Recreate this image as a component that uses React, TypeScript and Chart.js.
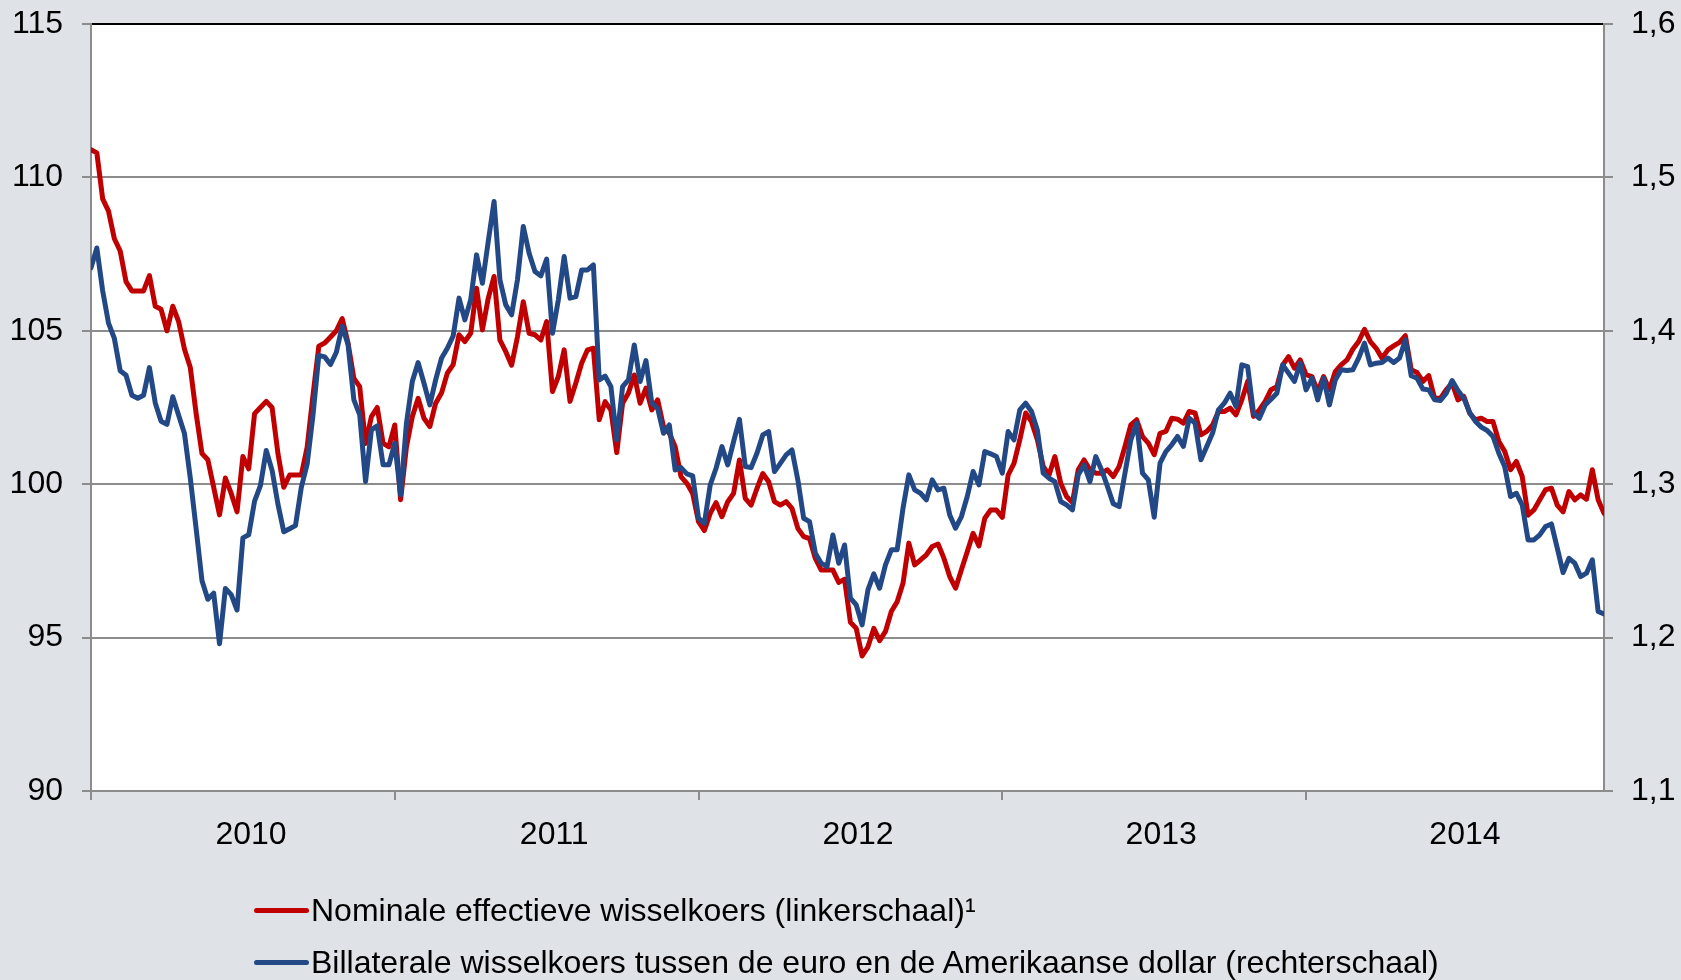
import React, { useEffect, useRef } from 'react';
import { Chart, registerables } from 'chart.js';

Chart.register(...registerables);

// ---- data (weekly observations, Jan 2010 – Dec 2014) ----
const yearLabels = ['2010', '2011', '2012', '2013', '2014'];
const yearStartWeeks = [0, 52, 104, 156, 208];
const yearLabelWeeks = [27.4, 79.3, 131.3, 183.2, 235.2];
const leftTicks = [90, 95, 100, 105, 110, 115];
const rightTicks = [1.1, 1.2, 1.3, 1.4, 1.5, 1.6];

const seriesNames = [
  'Nominale effectieve wisselkoers (linkerschaal)\u00B9',
  'Billaterale wisselkoers tussen de euro en de Amerikaanse dollar (rechterschaal)',
];

const nominalEffective = [
  110.9, 110.8, 109.3, 108.9, 108.0, 107.6, 106.6, 106.3, 106.3, 106.3,
  106.8, 105.8, 105.7, 105.0, 105.8, 105.3, 104.4, 103.8, 102.3, 101.0,
  100.8, 99.9, 99.0, 100.2, 99.7, 99.1, 100.9, 100.5, 102.3, 102.5,
  102.7, 102.5, 101.0, 99.9, 100.3, 100.3, 100.3, 101.2, 102.9, 104.5,
  104.6, 104.8, 105.0, 105.4, 104.6,
  103.45, 103.18, 101.33, 102.2, 102.5, 101.33, 101.22, 101.93, 99.49, 101.22,
  102.2, 102.8, 102.15, 101.88, 102.64, 102.97, 103.62, 103.9, 104.87, 104.65,
  104.92, 106.39, 105.03, 106.06, 106.77, 104.7, 104.32, 103.88, 104.8, 105.95,
  104.92, 104.87, 104.7, 105.3, 103.02, 103.51, 104.38, 102.7, 103.3, 103.95,
  104.38, 104.43, 102.1,
  102.69, 102.42, 101.03, 102.64, 102.97, 103.56, 102.64, 103.13, 102.42, 102.75,
  101.88, 101.66, 101.22, 100.25, 100.03, 99.7, 98.78, 98.49, 99.05, 99.4,
  98.94, 99.43, 99.7, 100.79, 99.54, 99.32, 99.86, 100.35, 100.08, 99.43,
  99.32, 99.43, 99.21, 98.56, 98.29, 98.23, 97.58,
  97.2, 97.2, 97.2, 96.8, 96.9, 95.5, 95.3, 94.4, 94.7, 95.3,
  94.9, 95.2, 95.85, 96.17, 96.77, 98.08, 97.37, 97.53, 97.7, 97.97,
  98.05, 97.59, 96.99, 96.61, 97.21, 97.8, 98.4, 97.99, 98.89, 99.16,
  99.16, 98.92, 100.3, 100.68, 101.45, 102.32, 102.04, 101.45, 100.58, 100.3,
  100.9, 100.03, 99.6, 99.4, 100.47, 100.79, 100.47, 100.36, 100.36,
  100.47, 100.25, 100.58, 101.23, 101.93, 102.1, 101.55, 101.34, 100.96, 101.66,
  101.72, 102.15, 102.12, 101.99, 102.37, 102.32, 101.61, 101.72, 101.93, 102.37,
  102.37, 102.48, 102.26, 102.75, 103.35, 102.21, 102.42, 102.7, 103.08, 103.18,
  103.89, 104.16, 103.78, 104.05, 103.57, 103.51, 103.02, 103.51, 103.08, 103.67,
  103.89,
  104.05, 104.4, 104.65, 105.05, 104.65, 104.43, 104.11, 104.38, 104.51, 104.62,
  104.84, 103.73, 103.64, 103.35, 103.54, 102.8, 102.8, 103.08, 103.29, 102.75,
  102.86, 102.32, 102.1, 102.15, 102.04, 102.04, 101.39, 101.07, 100.47, 100.74,
  100.25, 98.99, 99.16, 99.49, 99.82, 99.87, 99.32, 99.1, 99.76, 99.49,
  99.65, 99.51, 100.47, 99.49, 99.05,
];

const eurUsd = [
  1.441, 1.454, 1.426, 1.405, 1.395, 1.374, 1.371, 1.358, 1.356, 1.358,
  1.376, 1.353, 1.341, 1.339, 1.357, 1.345, 1.333, 1.304, 1.271, 1.237,
  1.225, 1.229, 1.196, 1.232, 1.228, 1.218, 1.265, 1.267, 1.289, 1.299,
  1.322, 1.309, 1.287, 1.269, 1.271, 1.273, 1.298, 1.313, 1.345, 1.384,
  1.383, 1.378, 1.386, 1.403, 1.391,
  1.355, 1.3452, 1.3017, 1.3354, 1.338, 1.3126, 1.3126, 1.3267, 1.293, 1.3397,
  1.3669, 1.3793, 1.3658, 1.3517, 1.368, 1.3821, 1.3886, 1.3967, 1.4213, 1.4071,
  1.4202, 1.4495, 1.431, 1.4582, 1.4843, 1.4332, 1.4169, 1.4104, 1.4332, 1.468,
  1.4506, 1.4387, 1.4358, 1.4467, 1.3984, 1.4202, 1.4484, 1.4213, 1.4223, 1.4397,
  1.4397, 1.443,
  1.368, 1.3705, 1.3636, 1.3288, 1.3636, 1.368, 1.3908, 1.3669, 1.3806, 1.3528,
  1.3495, 1.3332, 1.3386, 1.3093, 1.3108, 1.3067, 1.3054, 1.2778, 1.2745, 1.2995,
  1.3104, 1.3245, 1.3126, 1.3278, 1.3423, 1.3115, 1.3108, 1.3202, 1.3321, 1.3343,
  1.3082, 1.3136, 1.3191, 1.3223, 1.3028, 1.2778, 1.2756, 1.255, 1.2485, 1.2463,
  1.2669, 1.2485, 1.2604, 1.2257,
  1.2213, 1.2083, 1.2311, 1.2415, 1.2322, 1.2474, 1.2572, 1.2572, 1.2843, 1.3061,
  1.2963, 1.2941, 1.2898, 1.3028, 1.2963, 1.2974, 1.28, 1.2713, 1.2789, 1.292,
  1.3083, 1.2996, 1.3213, 1.3198, 1.318, 1.3072, 1.3343, 1.3289, 1.3485, 1.3528,
  1.3474, 1.3354, 1.3072, 1.3039, 1.3017, 1.2887, 1.2865, 1.2833, 1.3061, 1.3126,
  1.3017,
  1.318, 1.3093, 1.2985, 1.2872, 1.2854, 1.3072, 1.3289, 1.3398, 1.3072, 1.3028,
  1.2785, 1.3137, 1.3213, 1.3257, 1.3311, 1.3246, 1.343, 1.3398, 1.3159, 1.3246,
  1.3333, 1.3485, 1.3528, 1.3593, 1.3507, 1.3778, 1.3767, 1.3463, 1.343, 1.3517,
  1.3554, 1.3593, 1.3778, 1.3724, 1.367, 1.3789, 1.3615, 1.3691, 1.355, 1.3691,
  1.3517, 1.368, 1.3746,
  1.3741, 1.3746, 1.3822, 1.392, 1.3778, 1.3789, 1.3793, 1.3822, 1.3793, 1.3822,
  1.3941, 1.3707, 1.3691, 1.362, 1.3615, 1.355, 1.3546, 1.3593, 1.3676, 1.3611,
  1.3561, 1.3467, 1.3409, 1.3372, 1.335, 1.3311, 1.3202, 1.3115, 1.292, 1.2941,
  1.2865, 1.2637, 1.2637, 1.267, 1.2724, 1.2741, 1.2583, 1.2424, 1.2517, 1.2485,
  1.2398, 1.242, 1.2507, 1.217, 1.2154,
];

// ---- style ----
const PAGE_BG = '#dfe3e8';
const RED = '#c00000';
const BLUE = '#234886';
const GRID = '#8c8c8c';
const FONT = '"Liberation Sans", Arial, sans-serif';

const plotBackground = {
  id: 'plotBackground',
  beforeDraw(chart: any) {
    const { ctx, chartArea } = chart;
    if (!chartArea) return;
    ctx.save();
    ctx.fillStyle = '#ffffff';
    ctx.fillRect(chartArea.left, chartArea.top, chartArea.right - chartArea.left, chartArea.bottom - chartArea.top);
    ctx.restore();
  },
};

const noAutoPadding = (scale: any) => {
  scale.paddingTop = 0;
  scale.paddingBottom = 0;
  scale.paddingLeft = 0;
  scale.paddingRight = 0;
};

export default function App() {
  const canvasRef = useRef<HTMLCanvasElement | null>(null);

  useEffect(() => {
    const canvas = canvasRef.current;
    if (!canvas) return;
    const lastIndex = nominalEffective.length - 1;
    const chart = new Chart(canvas, {
      type: 'line',
      data: {
        datasets: [
          {
            label: seriesNames[0],
            data: nominalEffective.map((v, i) => ({ x: i, y: v })),
            borderColor: RED,
            borderWidth: 5,
            pointRadius: 0,
            tension: 0,
            borderJoinStyle: 'round',
            borderCapStyle: 'round',
            yAxisID: 'y',
            order: 1,
          },
          {
            label: seriesNames[1],
            data: eurUsd.map((v, i) => ({ x: i, y: v })),
            borderColor: BLUE,
            borderWidth: 5,
            pointRadius: 0,
            tension: 0,
            borderJoinStyle: 'round',
            borderCapStyle: 'round',
            yAxisID: 'y1',
            order: 0,
          },
        ],
      },
      options: {
        responsive: false,
        animation: false,
        devicePixelRatio: 1,
        layout: { padding: { top: 24, left: 0, right: 0, bottom: 0 } },
        plugins: {
          legend: { display: false },
          tooltip: { enabled: false },
        },
        scales: {
          x: {
            type: 'linear',
            min: 0,
            max: lastIndex,
            afterBuildTicks: (scale: any) => {
              const vals = [...yearStartWeeks, ...yearLabelWeeks].sort((a, b) => a - b);
              scale.ticks = vals.map((v) => ({ value: v }));
            },
            afterFit: (scale: any) => {
              scale.height = 189;
              noAutoPadding(scale);
            },
            ticks: {
              autoSkip: false,
              maxRotation: 0,
              minRotation: 0,
              padding: 16,
              color: '#000',
              font: { family: FONT, size: 32 },
              callback: (value: any) => {
                const idx = yearLabelWeeks.indexOf(value);
                return idx >= 0 ? yearLabels[idx] : '';
              },
            },
            grid: {
              drawOnChartArea: false,
              drawTicks: true,
              tickLength: 9,
              lineWidth: 2,
              tickColor: (ctx: any) =>
                ctx.tick && yearStartWeeks.includes(ctx.tick.value) ? GRID : 'rgba(0,0,0,0)',
            },
            border: { display: true, color: GRID, width: 2 },
          },
          y: {
            type: 'linear',
            position: 'left',
            min: 90,
            max: 115,
            afterBuildTicks: (scale: any) => {
              scale.ticks = leftTicks.map((v) => ({ value: v }));
            },
            afterFit: (scale: any) => {
              scale.width = 91;
              noAutoPadding(scale);
            },
            ticks: {
              padding: 19,
              color: '#000',
              font: { family: FONT, size: 32 },
              callback: (value: any) => String(value),
            },
            grid: {
              drawOnChartArea: true,
              drawTicks: true,
              tickLength: 9,
              lineWidth: 2,
              color: (ctx: any) => (ctx.tick && ctx.tick.value === 115 ? '#000000' : GRID),
              tickColor: GRID,
            },
            border: { display: true, color: GRID, width: 2 },
          },
          y1: {
            type: 'linear',
            position: 'right',
            min: 1.1,
            max: 1.6,
            afterBuildTicks: (scale: any) => {
              scale.ticks = rightTicks.map((v) => ({ value: v }));
            },
            afterFit: (scale: any) => {
              scale.width = 77;
              noAutoPadding(scale);
            },
            ticks: {
              padding: 18,
              color: '#000',
              font: { family: FONT, size: 32 },
              callback: (value: any) => Number(value).toFixed(1).replace('.', ','),
            },
            grid: {
              drawOnChartArea: false,
              drawTicks: true,
              tickLength: 9,
              lineWidth: 2,
              tickColor: GRID,
            },
            border: { display: true, color: GRID, width: 2 },
          },
        },
      },
      plugins: [plotBackground],
    });
    return () => chart.destroy();
  }, []);

  const legendRow = (color: string, text: string, centerY: number) => (
    <div
      style={{
        position: 'absolute',
        left: 254,
        top: centerY - 25,
        height: 50,
        display: 'flex',
        alignItems: 'center',
        whiteSpace: 'nowrap',
      }}
    >
      <div style={{ width: 55, height: 5, borderRadius: 2.5, background: color, marginRight: 2 }} />
      <span style={{ fontFamily: FONT, fontSize: 32, color: '#000', lineHeight: '50px' }}>{text}</span>
    </div>
  );

  return (
    <div
      style={{
        position: 'absolute',
        left: 0,
        top: 0,
        width: 1681,
        height: 980,
        background: PAGE_BG,
        overflow: 'hidden',
      }}
    >
      <canvas ref={canvasRef} width={1681} height={980} style={{ display: 'block', width: 1681, height: 980 }} />
      {legendRow(RED, seriesNames[0], 910)}
      {legendRow(BLUE, seriesNames[1], 962)}
    </div>
  );
}
